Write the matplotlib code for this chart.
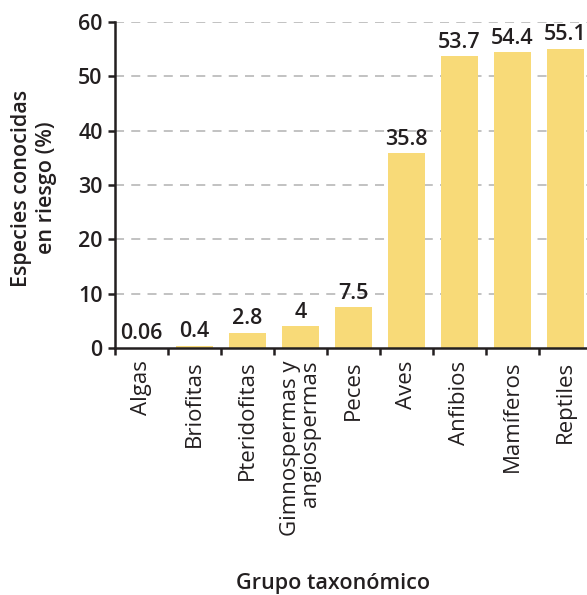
import matplotlib
matplotlib.use("Agg")
import matplotlib.pyplot as plt
import numpy as np

categories = ["Algas", "Briofitas", "Pteridofitas", "Gimnospermas y\nangiospermas",
              "Peces", "Aves", "Anfibios", "Mamíferos", "Reptiles"]
values = [0.06, 0.4, 2.8, 4, 7.5, 35.8, 53.7, 54.4, 55.1]
value_labels = ["0.06", "0.4", "2.8", "4", "7.5", "35.8", "53.7", "54.4", "55.1"]
yticks = [0, 10, 20, 30, 40, 50, 60]

plt.rcParams['font.family'] = ['Open Sans', 'DejaVu Sans']
dark = "#231f20"
bar_color = "#f8da78"

fig = plt.figure(figsize=(5.87, 5.95), dpi=100)
ax = fig.add_axes([115/587, 1-348/595, (587-115)/587 + 0.01, (348-22)/595])

x = np.arange(len(categories))
ax.bar(x, values, width=0.7, color=bar_color, zorder=2)
for xi, v, lab in zip(x, values, value_labels):
    ax.annotate(lab, (xi, v), xytext=(0, 2.5), textcoords="offset points",
                ha="center", va="bottom", fontsize=15.5, color=dark, fontweight="semibold")

ax.set_xlim(-0.5, len(categories) - 0.5 + 0.02)
ax.set_ylim(0, 60)
ax.set_yticks(yticks)
ax.set_yticklabels([str(t) for t in yticks], fontsize=15.5, color=dark, fontweight="semibold")
for t in yticks[1:]:
    ax.axhline(t, color="#bdbdbd", lw=1.3, ls=(0, (5, 4)), zorder=1)

ax.set_xticks(np.arange(len(categories) + 1) - 0.5)
ax.set_xticklabels([])
ax.set_xticks(x, minor=True)
ax.set_xticklabels(categories, minor=True, rotation=90, fontsize=16, color=dark,
                   ha="center", va="top", multialignment="right", linespacing=0.95)
ax.tick_params(axis="x", which="minor", length=0, pad=9)
ax.tick_params(axis="x", which="major", length=5, width=1.8, color=dark)
ax.tick_params(axis="y", length=5, width=1.8, color=dark, pad=4)

for s in ["top", "right"]:
    ax.spines[s].set_visible(False)
for s in ["left", "bottom"]:
    ax.spines[s].set_linewidth(1.8)
    ax.spines[s].set_color(dark)

fig.text(34/587, 1-188/595, "Especies conocidas\nen riesgo (%)", rotation=90,
         ha="center", va="center", fontsize=15.5, fontweight="semibold", color=dark,
         linespacing=1.2)
fig.text(333/587, 1-583/595, "Grupo taxonómico", ha="center", va="center",
         fontsize=15.5, fontweight="semibold", color=dark)

fig.savefig("out.png", dpi=100)
